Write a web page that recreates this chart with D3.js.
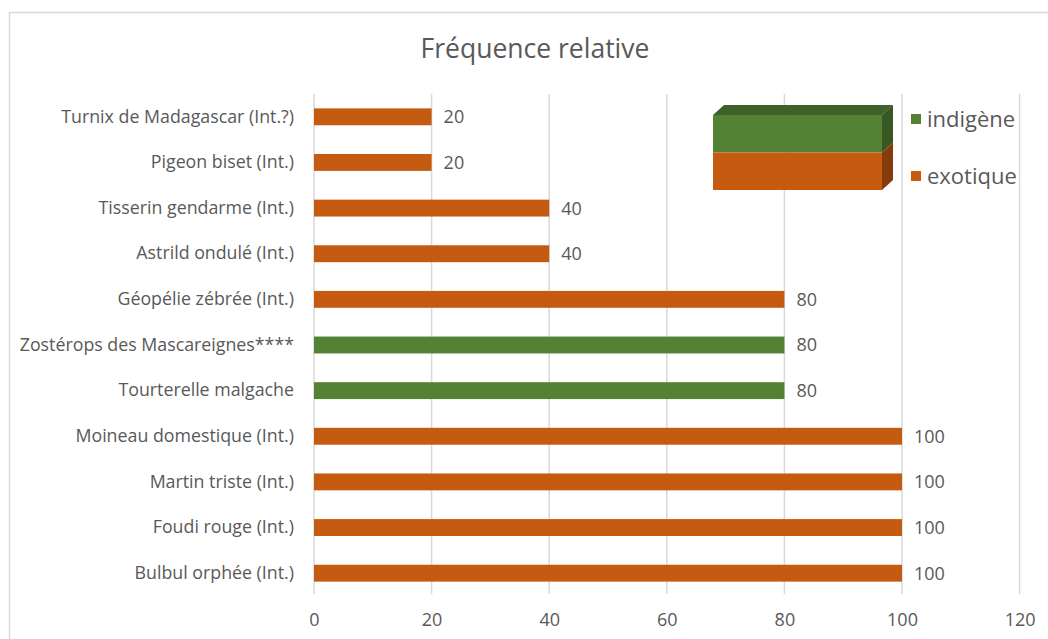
<!DOCTYPE html>
<html>
<head>
<meta charset="utf-8">
<script src="https://cdn.jsdelivr.net/npm/d3@7"></script>
<style>
  body { margin: 0; background: #fff; }
  text { font-family: "Open Sans", sans-serif; fill: #595959; }
</style>
</head>
<body>
<div id="chart-area"></div>
<script>
var width = 1048,
	height = 639;

// data, top to bottom
let species = ["Turnix de Madagascar (Int.?)", "Pigeon biset (Int.)", "Tisserin gendarme (Int.)",
	"Astrild ondulé (Int.)", "Géopélie zébrée (Int.)", "Zostérops des Mascareignes****",
	"Tourterelle malgache", "Moineau domestique (Int.)", "Martin triste (Int.)",
	"Foudi rouge (Int.)", "Bulbul orphée (Int.)"];
let frequency = [20, 20, 40, 40, 80, 80, 80, 100, 100, 100, 100];
let origin = ["exotique", "exotique", "exotique", "exotique", "exotique", "indigène",
	"indigène", "exotique", "exotique", "exotique", "exotique"];
let xTicks = [0, 20, 40, 60, 80, 100, 120];
let legendKeys = ["indigène", "exotique"];

let svg = d3.select("#chart-area")
	.append("svg")
	.attr("width", width)
	.attr("height", height);

// chart frame
svg.append("rect")
	.attr("x", 9.5).attr("y", 12.5)
	.attr("width", 1060).attr("height", 700)
	.attr("fill", "none")
	.attr("stroke", "#d9d9d9")
	.attr("stroke-width", 1.5);

svg.append("text")
	.text("Fréquence relative")
	.attr("x", 535).attr("y", 58)
	.attr("text-anchor", "middle")
	.style("font-size", "26.5px");

let xScale = d3.scaleLinear()
	.domain([0, 120])
	.range([314, 1019.6]);

let yScale = d3.scaleBand()
	.domain(species)
	.range([94, 596])
	.paddingInner(0.63)
	.paddingOuter(0.315);

let colorScale = d3.scaleOrdinal()
	.domain(legendKeys)
	.range(["#548235", "#c55a11"]);

// gridlines
svg.append("g")
	.selectAll("line")
	.data(xTicks)
	.enter()
	.append("line")
	.attr("x1", d => xScale(d)).attr("x2", d => xScale(d))
	.attr("y1", 94).attr("y2", 594)
	.attr("stroke", "#d9d9d9")
	.attr("stroke-width", 1.5);

// x axis labels
let xAxis = d3.axisBottom(xScale)
	.tickValues(xTicks)
	.tickSize(0)
	.tickPadding(0);

svg.append("g")
	.attr("transform", "translate(0,613)")
	.call(xAxis)
	.call(g => g.select(".domain").remove())
	.selectAll("text")
	.style("font-size", "18px")
	.style("font-family", "'Open Sans', sans-serif")
	.attr("fill", "#595959");

// y axis labels
let yAxis = d3.axisLeft(yScale).tickSize(0).tickPadding(20);

svg.append("g")
	.attr("transform", "translate(314,0)")
	.call(yAxis)
	.call(g => g.select(".domain").remove())
	.selectAll("text")
	.style("font-size", "17.8px")
	.style("font-family", "'Open Sans', sans-serif")
	.attr("fill", "#595959");

// bars
svg.selectAll("rect.bar")
	.data(species)
	.enter()
	.append("rect")
	.attr("class", "bar")
	.attr("x", xScale(0))
	.attr("y", d => yScale(d))
	.attr("width", (d, i) => xScale(frequency[i]) - xScale(0))
	.attr("height", yScale.bandwidth())
	.attr("fill", (d, i) => colorScale(origin[i]));

// value labels
svg.selectAll("text.value")
	.data(species)
	.enter()
	.append("text")
	.attr("class", "value")
	.text((d, i) => frequency[i])
	.attr("x", (d, i) => xScale(frequency[i]) + 12)
	.attr("y", d => yScale(d) + yScale.bandwidth() / 2)
	.attr("dy", "0.36em")
	.style("font-size", "18px");

// legend: 3d box
let bx = 713, by = 115, bw = 169, bh = 75, dx = 11, dy = 10;
let box = svg.append("g");
box.append("polygon")
	.attr("points", [[bx, by], [bx + dx, by - dy], [bx + bw + dx, by - dy], [bx + bw, by]].join(" "))
	.attr("fill", "#3f6128");
box.append("polygon")
	.attr("points", [[bx + bw, by], [bx + bw + dx, by - dy], [bx + bw + dx, by + bh / 2 - dy], [bx + bw, by + bh / 2]].join(" "))
	.attr("fill", "#385723");
box.append("polygon")
	.attr("points", [[bx + bw, by + bh / 2], [bx + bw + dx, by + bh / 2 - dy], [bx + bw + dx, by + bh - dy], [bx + bw, by + bh]].join(" "))
	.attr("fill", "#843c0c");
box.append("rect")
	.attr("x", bx).attr("y", by).attr("width", bw).attr("height", bh / 2)
	.attr("fill", "#548235");
box.append("rect")
	.attr("x", bx).attr("y", by + bh / 2).attr("width", bw).attr("height", bh / 2)
	.attr("fill", "#c55a11");

// legend entries
let legend = svg.selectAll("g.legend")
	.data(legendKeys)
	.enter()
	.append("g")
	.attr("class", "legend")
	.attr("transform", (d, i) => "translate(911," + (119 + i * 57) + ")");

legend.append("rect")
	.attr("x", 0).attr("y", -5)
	.attr("width", 10).attr("height", 10)
	.attr("fill", d => colorScale(d));

legend.append("text")
	.text(d => d)
	.attr("x", 16)
	.attr("dy", "0.36em")
	.style("font-size", "22px");
</script>
</body>
</html>
